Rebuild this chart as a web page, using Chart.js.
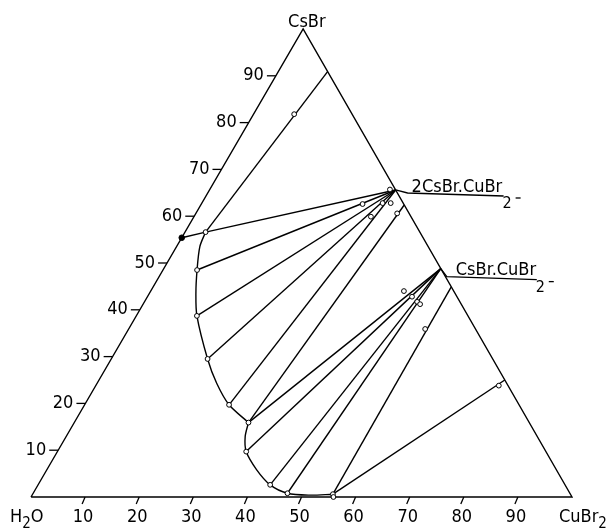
<!DOCTYPE html>
<html>
<head>
<meta charset="utf-8">
<title>CsBr - CuBr2 - H2O</title>
<script src="https://cdn.jsdelivr.net/npm/chart.js"></script>
<style>
  body { margin: 0; background: #fff; }
  #wrap { width: 606px; height: 528px; }
</style>
</head>
<body>
<div id="wrap"><canvas id="chart" width="606" height="528"></canvas></div>
<script>
// compositions in wt%: [CuBr2, CsBr], water is the rest
const tickValues = [10, 20, 30, 40, 50, 60, 70, 80, 90];
const compound21 = [34.4, 65.6];   // 2CsBr.CuBr2
const compound11 = [51.2, 48.8];   // CsBr.CuBr2

const binaryCsBr = [0, 55.4];
const curveTop = [[0, 55.4], [3.8, 56.6]];
const curveA = [[3.8, 56.6], [4.3, 53.5], [6.3, 48.5], [8.6, 43.5], [11.2, 38.7], [17.8, 29.5], [22.1, 24.3], [26.7, 19.7], [32.2, 15.9]];
const curveB = [[32.2, 15.9], [33.1, 12.9], [34.9, 9.7], [38.8, 5.8], [42.9, 2.6], [47.0, 0.8], [51.3, 0.4], [55.5, 0.6]];
const curveC = [[55.5, 0.6], [55.9, 0]];

const tieLines = [
  [[3.8, 56.6], [9.1, 90.9]],
  [[3.8, 56.6], compound21],
  [[6.3, 48.5], compound21],
  [[11.2, 38.7], compound21],
  [[17.8, 29.5], compound21],
  [[26.7, 19.7], compound21],
  [[32.2, 15.9], [37.6, 62.4]],
  [[32.2, 15.9], compound11],
  [[34.9, 9.7], compound11],
  [[42.9, 2.6], compound11],
  [[47.0, 0.8], compound11],
  [[55.5, 0.6], [55.1, 44.9]],
  [[55.5, 0.6], [75.0, 25.0]]
];

const liquidPoints = [[3.8, 56.6], [6.3, 48.5], [11.2, 38.7], [17.8, 29.5], [26.7, 19.7], [32.2, 15.9],
  [34.9, 9.7], [42.9, 2.6], [47.0, 0.8], [55.5, 0.6], [55.9, 0]];
const residues = [[7.5, 81.8], [33.3, 65.7], [29.8, 62.6], [33.4, 62.8], [32.7, 59.9], [34.9, 62.8], [37.2, 60.6],
  [46.8, 44.0], [48.9, 42.8], [50.4, 41.7], [51.2, 41.2], [54.8, 35.9], [74.5, 23.8]];

const triangle = [[0, 0], [100, 0], [0, 100], [0, 0]];

// skew of the drawing: apex sits a bit right of the middle
const K = 0.503;
const toXY = p => ({ x: p[0] + K * p[1], y: p[1] });

const FONT = '"DejaVu Sans Condensed", "DejaVu Sans", sans-serif';

function lineSet(pts, tension) {
  return {
    data: pts.map(toXY), showLine: true, borderColor: '#000', borderWidth: 1.4,
    pointRadius: 0, tension: tension || 0, clip: false, order: 2
  };
}

const datasets = [
  lineSet(triangle),
  lineSet(curveTop),
  lineSet(curveA, 0.3),
  lineSet(curveB, 0.3),
  lineSet(curveC)
];
tieLines.forEach(t => datasets.push(lineSet(t)));
datasets.push({
  data: liquidPoints.concat(residues).map(toXY), showLine: false, pointRadius: 2.4,
  pointBackgroundColor: '#fff', pointBorderColor: '#000', pointBorderWidth: 1, clip: false, order: 0
});
datasets.push({
  data: [toXY(binaryCsBr)], showLine: false, pointRadius: 2.8,
  pointBackgroundColor: '#000', pointBorderColor: '#000', clip: false, order: 0
});

// text with subscripts: parts = [[text, isSub], ...]
function richText(ctx, parts, x, y, size) {
  parts.forEach(([t, sub]) => {
    ctx.font = (sub ? size - 3 : size) + 'px ' + FONT;
    ctx.fillText(t, x, sub ? y + 6 : y);
    x += ctx.measureText(t).width;
  });
  return x;
}

const ternaryFrame = {
  id: 'ternaryFrame',
  afterDatasetsDraw(chart) {
    const ctx = chart.ctx, sx = chart.scales.x, sy = chart.scales.y;
    const px = p => { const q = toXY(p); return [sx.getPixelForValue(q.x), sy.getPixelForValue(q.y)]; };
    ctx.save();
    ctx.strokeStyle = '#000';
    ctx.fillStyle = '#000';
    ctx.lineWidth = 1.3;
    ctx.font = '18px ' + FONT;

    tickValues.forEach(v => {
      // CsBr ticks on the left edge
      let [x, y] = px([0, v]);
      ctx.beginPath(); ctx.moveTo(x, y); ctx.lineTo(x - 9, y); ctx.stroke();
      ctx.textAlign = 'right'; ctx.textBaseline = 'middle';
      ctx.fillText(String(v), x - 12, y);
      // CuBr2 ticks on the bottom edge
      [x, y] = px([v, 0]);
      ctx.beginPath(); ctx.moveTo(x, y); ctx.lineTo(x - 3, y + 7); ctx.stroke();
      ctx.textAlign = 'center'; ctx.textBaseline = 'alphabetic';
      ctx.fillText(String(v), x - 2, y + 25);
    });

    ctx.textAlign = 'left'; ctx.textBaseline = 'alphabetic';
    let [ax, ay] = px([0, 100]);
    richText(ctx, [['CsBr', 0]], ax - 15, ay - 2, 18);
    let [hx, hy] = px([0, 0]);
    richText(ctx, [['H', 0], ['2', 1], ['O', 0]], hx - 21, hy + 25, 18);
    let [cx, cy] = px([100, 0]);
    richText(ctx, [['CuBr', 0], ['2', 1]], cx - 13, hy + 25, 18);

    // compound labels with leader lines
    [[compound21, '2CsBr.CuBr', [12, 3], [108, 6], 16, 2],
     [compound11, 'CsBr.CuBr', [6, 8], [96, 11], 15, 6]].forEach(([c, txt, p1, p2, tx, ty]) => {
      const [x, y] = px(c);
      ctx.beginPath();
      ctx.moveTo(x, y); ctx.lineTo(x + p1[0], y + p1[1]); ctx.lineTo(x + p2[0], y + p2[1]);
      ctx.stroke();
      ctx.font = '18px ' + FONT;
      ctx.fillText(txt, x + tx, y + ty);
      ctx.font = '16px ' + FONT;
      ctx.fillText('2', x + p2[0] - 1, y + p2[1] + 12);
      ctx.beginPath();
      ctx.moveTo(x + p2[0] + 12, y + p2[1] + 2); ctx.lineTo(x + p2[0] + 17, y + p2[1] + 2);
      ctx.stroke();
    });
    ctx.restore();
  }
};

new Chart(document.getElementById('chart').getContext('2d'), {
  type: 'scatter',
  data: { datasets: datasets },
  options: {
    responsive: false,
    animation: false,
    devicePixelRatio: 1,
    layout: { padding: { left: 31, right: 34, top: 29, bottom: 31 } },
    plugins: { legend: { display: false }, tooltip: { enabled: false } },
    scales: {
      x: { type: 'linear', min: 0, max: 100, display: false },
      y: { type: 'linear', min: 0, max: 100, display: false }
    }
  },
  plugins: [ternaryFrame]
});
</script>
</body>
</html>
